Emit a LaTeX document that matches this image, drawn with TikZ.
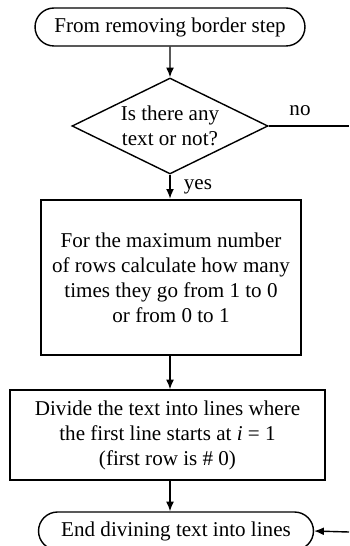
\documentclass[tikz,border=0pt]{standalone}
\usepackage{fontspec}
\setmainfont{Liberation Serif}
\usetikzlibrary{shapes.geometric,shapes.misc,arrows.meta}

\tikzset{
  term/.style={draw, line width=0.8pt, rounded rectangle, minimum height=0.76cm, inner sep=0pt},
  question/.style={draw, line width=0.8pt, diamond, aspect=2, minimum width=3.92cm, minimum height=1.92cm, inner sep=0pt, align=center},
  stepbox/.style={draw, line width=0.8pt, rectangle, align=center, inner sep=0pt},
  flow/.style={-{Latex[length=5.5pt,width=4.5pt]}, line width=0.8pt}
}

\begin{document}
\begin{tikzpicture}[x=0.02cm, y=-0.02cm, font=\fontsize{12}{14.2}\selectfont]
    \useasboundingbox (0,0) rectangle (349,546);

    % start and question
    \node[term, minimum width=5.4cm] (start) at (170,27) {From removing border step};
    \node[question] (anytext) at (170,126) {Is there any\\text or not?};

    % steps
    \node[stepbox, line width=1.5pt, minimum width=5.2cm, minimum height=3.1cm] (count) at (171,277.5)
        {For the maximum number\\of rows calculate how many\\times they go from 1 to 0\\or from 0 to 1};
    \node[stepbox, minimum width=6.3cm, minimum height=1.8cm] (divide) at (167.5,435)
        {Divide the text into lines where\\the first line starts at \textit{i} = 1\\(first row is \# 0)};

    % end
    \node[term, minimum width=5.5cm] (stop) at (176,531) {End divining text into lines};

    % connectors
    \coordinate (noend) at (349,126);
    \coordinate (backin) at (349,532);
    \draw[flow] (start) -- (anytext);
    \draw[flow] (anytext) -- (anytext |- count.north);
    \draw[flow] (count.south -| start) -- (divide.north -| start);
    \draw[flow] (divide.south -| start) -- (stop.north -| start);
    \draw[line width=0.8pt] (anytext.east) -- (noend);
    \draw[flow] (backin) -- (stop.east);
    \node (no) at (300,111) {no};
    \node (yes) at (198,187) {yes};
\end{tikzpicture}
\end{document}
